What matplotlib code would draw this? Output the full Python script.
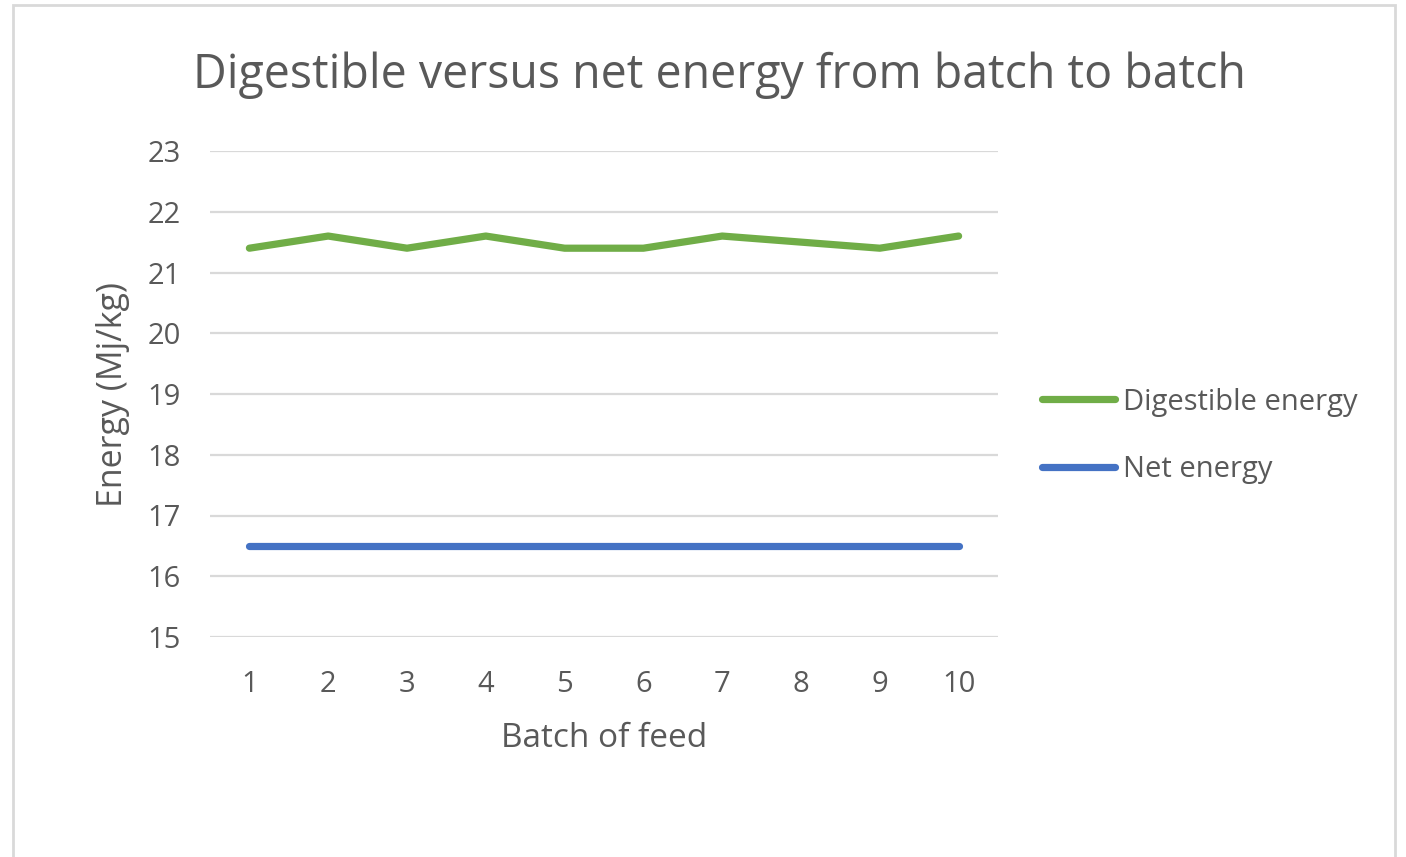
import matplotlib.pyplot as plt
from matplotlib.patches import Rectangle

batches = [1, 2, 3, 4, 5, 6, 7, 8, 9, 10]
digestible = [21.4, 21.6, 21.4, 21.6, 21.4, 21.4, 21.6, 21.5, 21.4, 21.6]
net = [16.5] * 10

plt.rcParams['font.family'] = ['Open Sans', 'DejaVu Sans']
txt = '#595959'

fig = plt.figure(figsize=(14.06, 8.57), dpi=100)
# outer chart border
fig.patches.append(Rectangle((13 / 1406, -0.05), 1382 / 1406, 1.0 - 5 / 857 + 0.05,
                             transform=fig.transFigure, fill=False,
                             edgecolor='#d9d9d9', linewidth=2))

ax = fig.add_axes([210 / 1406, 1 - 637 / 857, 788 / 1406, 486 / 857])
ax.plot(batches, digestible, color='#70ad47', linewidth=5.2,
        solid_capstyle='round', solid_joinstyle='round', label='Digestible energy')
ax.plot(batches, net, color='#4472c4', linewidth=5.2,
        solid_capstyle='round', label='Net energy')

ax.set_xlim(0.5, 10.5)
ax.set_ylim(15, 23)
ax.set_xticks(batches)
ax.set_yticks(range(15, 24))
ax.grid(axis='y', color='#d9d9d9', linewidth=1.6)
ax.set_axisbelow(True)
for s in ax.spines.values():
    s.set_visible(False)
ax.tick_params(length=0, labelsize=21, labelcolor=txt)
ax.tick_params(axis='x', pad=24)
ax.tick_params(axis='y', pad=21)

ax.set_xlabel('Batch of feed', fontsize=24, color=txt, va='center')
ax.xaxis.set_label_coords(0.5, -0.208)
ax.set_ylabel('Energy (Mj/kg)', fontsize=24.5, color=txt, va='center')
ax.yaxis.set_label_coords(-0.123, 0.498)

fig.text(719 / 1406, 1 - 75 / 857, 'Digestible versus net energy from batch to batch',
         ha='center', va='center', fontsize=33.5, color=txt)

leg = ax.legend(loc='center left', bbox_to_anchor=(1.023, 0.414), frameon=False,
                fontsize=21, labelcolor=txt, handlelength=2.5, handletextpad=0.28,
                labelspacing=1.31)

fig.savefig('out.png', dpi=100)
